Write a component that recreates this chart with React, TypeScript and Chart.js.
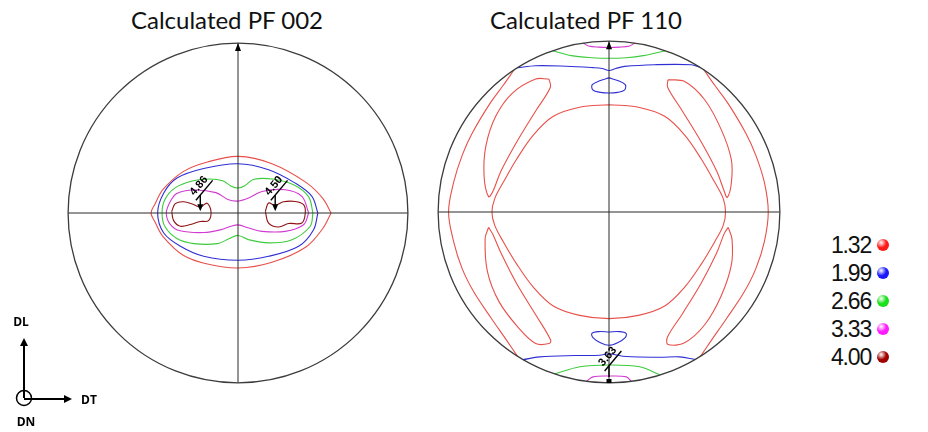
import React, { useEffect, useRef } from "react";
import { Chart, registerables } from "chart.js";
Chart.register(...registerables);

// ---------- data ----------
const LEVELS = ["1.32", "1.99", "2.66", "3.33", "4.00"];
const LEVEL_COLORS = ["#e8504a", "#2f2fd4", "#3ccc3c", "#d23ad2", "#8e1414"];
const LEGEND_BALLS = ["#ff1a1a", "#1a1aff", "#1ae01a", "#ff1aff", "#a00000"];
const TITLES = ["Calculated PF 002", "Calculated PF 110"];
const AXIS_LABELS = ["DL", "DT", "DN"];

// Pole figure 002 contours (unit pole-figure coordinates)
const PF002_132 = [[0.548,0],[0.5,0.085],[0.4,0.18],[0.2,0.29],[0,0.333],[-0.18,0.3],[-0.32,0.245],[-0.44,0.14],[-0.49,0.05],[-0.512,0],[-0.49,-0.05],[-0.44,-0.14],[-0.32,-0.25],[-0.18,-0.3],[0,-0.324],[0.2,-0.29],[0.4,-0.2],[0.5,-0.09],[0.548,0]];
const PF002_199 = [[0.47,0],[0.435,0.098],[0.337,0.176],[0.18,0.255],[0,0.29],[-0.202,0.262],[-0.359,0.206],[-0.437,0.118],[-0.473,0],[-0.437,-0.118],[-0.339,-0.196],[-0.202,-0.255],[0,-0.278],[0.18,-0.255],[0.357,-0.196],[0.445,-0.098],[0.47,0]];
const PF002_266 = [[0.441,0],[0.416,0.095],[0.33,0.165],[0.2,0.2],[0.09,0.197],[0.04,0.16],[0,0.147],[-0.04,0.158],[-0.09,0.19],[-0.17,0.2],[-0.27,0.188],[-0.37,0.148],[-0.43,0.08],[-0.447,0],[-0.43,-0.08],[-0.36,-0.15],[-0.26,-0.18],[-0.12,-0.18],[-0.05,-0.15],[0,-0.132],[0.063,-0.157],[0.18,-0.176],[0.318,-0.157],[0.425,-0.078],[0.441,0]];
const PF002_333 = [[0.416,0],[0.376,0.098],[0.278,0.137],[0.141,0.127],[0.063,0.088],[0,0.07],[-0.06,0.08],[-0.13,0.12],[-0.26,0.135],[-0.36,0.115],[-0.4,0.065],[-0.422,0],[-0.4,-0.065],[-0.34,-0.105],[-0.2,-0.115],[-0.1,-0.098],[-0.04,-0.078],[0,-0.07],[0.063,-0.088],[0.141,-0.108],[0.278,-0.108],[0.386,-0.069],[0.416,0]];
const PF002_400_A = [[-0.39,0.01],[-0.369,0.055],[-0.32,0.066],[-0.262,0.05],[-0.222,0.035],[-0.182,0.058],[-0.159,0.01],[-0.173,-0.045],[-0.222,-0.05],[-0.28,-0.068],[-0.339,-0.078],[-0.379,-0.045],[-0.39,0.01]];
const PF002_400_B = [[0.161,0.01],[0.18,0.059],[0.219,0.045],[0.268,0.066],[0.337,0.068],[0.386,0.049],[0.396,0],[0.376,-0.059],[0.298,-0.062],[0.239,-0.082],[0.18,-0.059],[0.161,0.01]];

// Pole figure 110 contours
const PF110_132_LEFT = [[-0.556,0.831],[-0.62,0.74],[-0.7,0.63],[-0.8,0.462],[-0.86,0.33],[-0.91,0.17],[-0.939,0],[-0.91,-0.17],[-0.86,-0.33],[-0.79,-0.47],[-0.69,-0.62],[-0.6,-0.75],[-0.535,-0.845]];
const PF110_132_RIGHT = [[0.556,0.831],[0.62,0.74],[0.7,0.63],[0.8,0.462],[0.86,0.33],[0.91,0.17],[0.932,0],[0.91,-0.17],[0.86,-0.33],[0.79,-0.47],[0.69,-0.62],[0.6,-0.75],[0.535,-0.845]];
const PF110_132_INNER = [[0,0.628],[0.172,0.613],[0.326,0.56],[0.443,0.45],[0.54,0.31],[0.618,0.175],[0.668,0.08],[0.682,0],[0.668,-0.08],[0.618,-0.175],[0.54,-0.305],[0.443,-0.44],[0.326,-0.55],[0.172,-0.605],[0,-0.624],[-0.172,-0.605],[-0.326,-0.55],[-0.443,-0.44],[-0.54,-0.305],[-0.618,-0.175],[-0.668,-0.08],[-0.685,0],[-0.668,0.08],[-0.618,0.175],[-0.54,0.31],[-0.443,0.45],[-0.326,0.56],[-0.172,0.613],[0,0.628]];
const PF110_132_UL = [[-0.351,0.778],[-0.429,0.778],[-0.565,0.696],[-0.663,0.56],[-0.721,0.384],[-0.731,0.209],[-0.705,0.09],[-0.68,0.12],[-0.632,0.24],[-0.54,0.41],[-0.43,0.59],[-0.343,0.73],[-0.351,0.778]];
const PF110_132_UR = [[0.345,0.774],[0.443,0.764],[0.56,0.657],[0.657,0.482],[0.716,0.306],[0.716,0.17],[0.692,0.085],[0.675,0.12],[0.63,0.24],[0.54,0.41],[0.43,0.59],[0.343,0.73],[0.345,0.774]];
const PF110_132_LL = [[-0.705,-0.09],[-0.725,-0.156],[-0.711,-0.351],[-0.643,-0.526],[-0.526,-0.682],[-0.429,-0.77],[-0.351,-0.77],[-0.341,-0.75],[-0.43,-0.6],[-0.54,-0.42],[-0.632,-0.24],[-0.68,-0.13],[-0.705,-0.09]];
const PF110_132_LR = [[0.698,-0.09],[0.72,-0.16],[0.716,-0.31],[0.657,-0.49],[0.56,-0.66],[0.443,-0.765],[0.345,-0.775],[0.343,-0.73],[0.43,-0.595],[0.54,-0.415],[0.63,-0.24],[0.675,-0.125],[0.698,-0.09]];
const PF110_199_TOP = [[-0.536,0.844],[-0.43,0.856],[-0.25,0.853],[-0.097,0.845],[-0.04,0.84],[0,0.828],[0.04,0.84],[0.092,0.852],[0.267,0.862],[0.482,0.862],[0.53,0.848]];
const PF110_199_BOTTOM = [[-0.503,-0.864],[-0.405,-0.848],[-0.2,-0.84],[-0.054,-0.838],[0,-0.83],[0.102,-0.846],[0.3,-0.85],[0.413,-0.848],[0.505,-0.863]];
const PF110_199_LOOP_TOP = [[0,0.785],[0.05,0.77],[0.095,0.745],[0.092,0.715],[0.05,0.7],[0,0.696],[-0.05,0.7],[-0.095,0.715],[-0.098,0.745],[-0.05,0.77],[0,0.785]];
const PF110_199_LOOP_BOTTOM = [[0,-0.702],[0.06,-0.7],[0.1,-0.71],[0.095,-0.735],[0.05,-0.765],[0,-0.78],[-0.05,-0.765],[-0.094,-0.735],[-0.1,-0.71],[-0.06,-0.7],[0,-0.702]];
const PF110_266_TOP = [[-0.33,0.944],[-0.22,0.915],[-0.1,0.903],[0,0.9],[0.1,0.903],[0.2,0.915],[0.33,0.944]];
const PF110_266_BOTTOM = [[-0.318,-0.948],[-0.171,-0.906],[0,-0.895],[0.18,-0.906],[0.3,-0.954]];
const PF110_333_TOP = [[-0.15,0.989],[-0.12,0.972],[-0.06,0.965],[0,0.963],[0.06,0.965],[0.12,0.972],[0.15,0.989]];
const PF110_333_BOTTOM = [[-0.132,-0.991],[-0.094,-0.965],[0,-0.96],[0.102,-0.965],[0.13,-0.991]];

type Marker = { x: number; y: number; kind: "pole" | "max" | "maxDot"; label?: string };
const PF002_MARKERS: Marker[] = [
  { x: 0, y: 1, kind: "pole" },
  { x: -0.222, y: 0.01, kind: "max", label: "4.86" },
  { x: 0.219, y: 0.01, kind: "max", label: "4.50" },
];
const PF110_MARKERS: Marker[] = [
  { x: 0, y: 1, kind: "pole" },
  { x: 0, y: -0.995, kind: "maxDot", label: "3.63" },
];

type Contour = { level: number; pts: number[][] };
const PF002_CONTOURS: Contour[] = [
  { level: 0, pts: PF002_132 },
  { level: 1, pts: PF002_199 },
  { level: 2, pts: PF002_266 },
  { level: 3, pts: PF002_333 },
  { level: 4, pts: PF002_400_A },
  { level: 4, pts: PF002_400_B },
];
const PF110_CONTOURS: Contour[] = [
  { level: 0, pts: PF110_132_LEFT },
  { level: 0, pts: PF110_132_RIGHT },
  { level: 0, pts: PF110_132_INNER },
  { level: 0, pts: PF110_132_UL },
  { level: 0, pts: PF110_132_UR },
  { level: 0, pts: PF110_132_LL },
  { level: 0, pts: PF110_132_LR },
  { level: 1, pts: PF110_199_TOP },
  { level: 1, pts: PF110_199_BOTTOM },
  { level: 1, pts: PF110_199_LOOP_TOP },
  { level: 1, pts: PF110_199_LOOP_BOTTOM },
  { level: 2, pts: PF110_266_TOP },
  { level: 2, pts: PF110_266_BOTTOM },
  { level: 3, pts: PF110_333_TOP },
  { level: 3, pts: PF110_333_BOTTOM },
];

const LIM = 1.03;

function makeFramePlugin(markers: Marker[]) {
  return {
    id: "pfFrame",
    afterDatasetsDraw(chart: any) {
      const { ctx } = chart;
      const xs = chart.scales.x;
      const ys = chart.scales.y;
      const cx = xs.getPixelForValue(0);
      const cy = ys.getPixelForValue(0);
      const r = xs.getPixelForValue(1) - cx;
      ctx.save();
      ctx.strokeStyle = "#2a2a2a";
      ctx.lineWidth = 1;
      ctx.beginPath();
      ctx.moveTo(cx - r, cy);
      ctx.lineTo(cx + r, cy);
      ctx.moveTo(cx, cy - r);
      ctx.lineTo(cx, cy + r);
      ctx.stroke();
      ctx.strokeStyle = "#3c3c3c";
      ctx.lineWidth = 1.3;
      ctx.beginPath();
      ctx.arc(cx, cy, r, 0, Math.PI * 2);
      ctx.stroke();

      ctx.fillStyle = "#000";
      ctx.strokeStyle = "#000";
      for (const m of markers) {
        const px = xs.getPixelForValue(m.x);
        const py = ys.getPixelForValue(m.y);
        if (m.kind === "pole") {
          ctx.beginPath();
          ctx.moveTo(px, py);
          ctx.lineTo(px - 3, py + 8);
          ctx.lineTo(px + 3, py + 8);
          ctx.closePath();
          ctx.fill();
          continue;
        }
        ctx.lineWidth = 1.4;
        if (m.kind === "max") {
          ctx.beginPath();
          ctx.moveTo(px, py);
          ctx.lineTo(px - 3, py - 7);
          ctx.lineTo(px + 3, py - 7);
          ctx.closePath();
          ctx.fill();
        } else {
          ctx.fillRect(px - 2.5, py - 3, 5, 4);
        }
        ctx.beginPath();
        ctx.moveTo(px, py - 5);
        ctx.lineTo(px, py - 16);
        ctx.stroke();
        const ang = -50 * Math.PI / 180;
        const lx = px + 4, ly = py - 21;
        const dx = Math.cos(ang) * 13, dy = Math.sin(ang) * 13;
        ctx.beginPath();
        ctx.moveTo(lx - dx, ly - dy);
        ctx.lineTo(lx + dx, ly + dy);
        ctx.stroke();
        if (m.label) {
          const nx = Math.sin(ang), ny = -Math.cos(ang);
          ctx.save();
          ctx.translate(lx + nx * 7, ly + ny * 7);
          ctx.rotate(ang);
          ctx.font = "bold 11px 'Liberation Sans', Arial, sans-serif";
          ctx.textAlign = "center";
          ctx.textBaseline = "middle";
          ctx.fillText(m.label, 0, 0);
          ctx.restore();
        }
      }
      ctx.restore();
    },
  };
}

function PoleFigure(props: { contours: Contour[]; markers: Marker[]; size: number; left: number; top: number }) {
  const ref = useRef<HTMLCanvasElement | null>(null);
  useEffect(() => {
    if (!ref.current) return;
    const datasets = props.contours.map((c) => ({
      data: c.pts.map(([x, y]) => ({ x, y })),
      borderColor: LEVEL_COLORS[c.level],
      backgroundColor: LEVEL_COLORS[c.level],
      borderWidth: 1.1,
      showLine: true,
      pointRadius: 0,
      pointHoverRadius: 0,
      tension: 0.35,
      fill: false,
    }));
    const chart = new Chart(ref.current, {
      type: "scatter",
      data: { datasets },
      options: {
        animation: false,
        responsive: false,
        maintainAspectRatio: false,
        events: [],
        layout: { padding: 0 },
        plugins: { legend: { display: false }, tooltip: { enabled: false }, title: { display: false } },
        scales: {
          x: { type: "linear", min: -LIM, max: LIM, display: false },
          y: { type: "linear", min: -LIM, max: LIM, display: false },
        },
      },
      plugins: [makeFramePlugin(props.markers)],
    } as any);
    return () => chart.destroy();
  }, []);
  return (
    <canvas
      ref={ref}
      width={props.size}
      height={props.size}
      style={{ position: "absolute", left: props.left, top: props.top, width: props.size, height: props.size }}
    />
  );
}

function Ball({ color }: { color: string }) {
  return (
    <span
      style={{
        display: "inline-block",
        width: 12,
        height: 12,
        borderRadius: "50%",
        background: `radial-gradient(circle at 35% 30%, #ffffff 0%, ${color} 45%, ${color} 70%, #300 130%)`,
        marginLeft: 6,
      }}
    />
  );
}

export default function App() {
  const titleStyle: React.CSSProperties = {
    position: "absolute",
    top: 6,
    transform: "translateX(-50%)",
    fontFamily: "Lato, 'Open Sans', sans-serif",
    fontSize: 24,
    lineHeight: "28px",
    color: "#111",
    whiteSpace: "nowrap",
  };
  const axisFont = "bold 12px 'Open Sans', Arial, sans-serif";
  return (
    <div style={{ position: "fixed", left: 0, top: 0, width: 928, height: 432, background: "#fff", overflow: "hidden" }}>
      <div style={{ ...titleStyle, left: 227 }}>{TITLES[0]}</div>
      <div style={{ ...titleStyle, left: 586 }}>{TITLES[1]}</div>
      <PoleFigure contours={PF002_CONTOURS} markers={PF002_MARKERS} size={350} left={63} top={38} />
      <PoleFigure contours={PF110_CONTOURS} markers={PF110_MARKERS} size={352} left={433} top={36} />
      <div style={{ position: "absolute", left: 790, top: 231, width: 99 }}>
        {LEVELS.map((lv, i) => (
          <div
            key={lv}
            style={{
              display: "flex",
              alignItems: "center",
              justifyContent: "flex-end",
              height: 28,
              fontFamily: "'Liberation Sans', Arial, sans-serif",
              fontSize: 23,
              letterSpacing: -1.2,
              color: "#111",
            }}
          >
            <span>{lv}</span>
            <Ball color={LEGEND_BALLS[i]} />
          </div>
        ))}
      </div>
      <svg width={130} height={132} style={{ position: "absolute", left: 0, top: 300 }}>
        <defs>
          <marker id="ah" markerWidth="8" markerHeight="8" refX="6" refY="4" orient="auto" markerUnits="userSpaceOnUse">
            <path d="M0,0 L8,4 L0,8 Z" fill="#000" />
          </marker>
        </defs>
        <line x1={24} y1={98} x2={24} y2={40} stroke="#000" strokeWidth={2} markerEnd="url(#ah)" />
        <line x1={24} y1={99} x2={70} y2={99} stroke="#000" strokeWidth={2} markerEnd="url(#ah)" />
        <circle cx={24} cy={98} r={7.5} fill="none" stroke="#000" strokeWidth={1.5} />
        <text x={21} y={26} textAnchor="middle" style={{ font: axisFont }}>{AXIS_LABELS[0]}</text>
        <text x={89} y={104} textAnchor="middle" style={{ font: axisFont }}>{AXIS_LABELS[1]}</text>
        <text x={26} y={126} textAnchor="middle" style={{ font: axisFont }}>{AXIS_LABELS[2]}</text>
      </svg>
    </div>
  );
}
